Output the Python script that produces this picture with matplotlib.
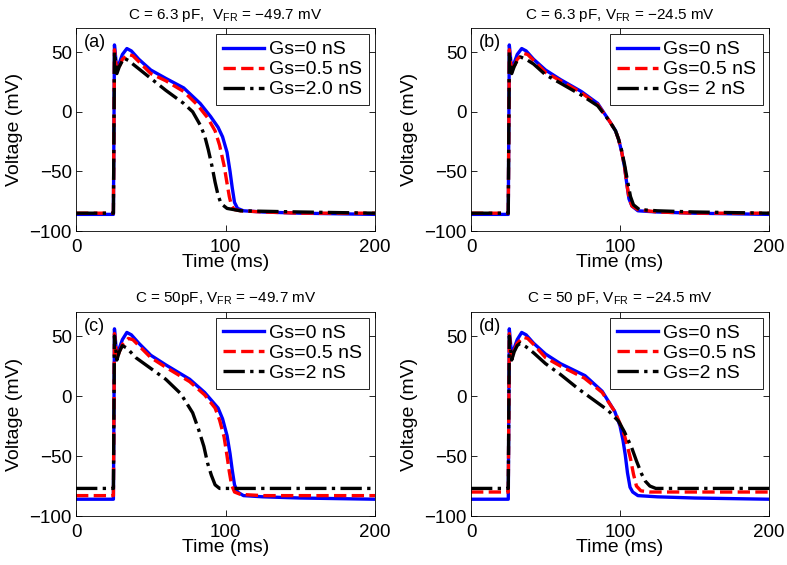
import matplotlib
matplotlib.use('Agg')
import matplotlib.pyplot as plt

plt.rcParams['font.family'] = ['Liberation Sans', 'DejaVu Sans']
plt.rcParams['mathtext.fontset'] = 'custom'
plt.rcParams['mathtext.rm'] = 'Liberation Sans'
plt.rcParams['mathtext.it'] = 'Liberation Sans:italic'

# panel (a): C = 6.3 pF, VFR = -49.7 mV
a_t_gs0 = [0, 25, 25.7, 27.3, 29, 31, 34, 37, 42, 50, 60, 72, 83, 90, 95, 98, 101, 103, 104.5, 106, 108, 112, 125, 150, 200]
a_v_gs0 = [-86, -86, 56, 35, 41, 48, 53, 51, 44, 35, 28, 20, 7, -4, -13, -21, -34, -50, -64, -76, -81, -83, -84, -85, -86]
a_t_gs05 = [0, 25, 25.7, 27.3, 29, 31, 35, 38, 42, 50, 60, 72, 81, 88, 93, 96, 99, 101, 102.5, 104, 106, 110, 125, 150, 200]
a_v_gs05 = [-85, -85, 52, 33, 38, 44, 48, 47, 42, 32, 26, 17, 6, -5, -16, -28, -45, -60, -71, -79, -82, -83, -84, -85, -85]
a_t_gs2 = [0, 25, 25.7, 27.3, 29, 32, 35, 40, 50, 60, 72, 78, 83, 86, 88.5, 91, 93, 95, 97, 101, 110, 150, 200]
a_v_gs2 = [-85, -85, 50, 32, 38, 45, 43, 38, 28, 18, 7, 0, -11, -20, -32, -46, -59, -70, -77, -81, -83, -84, -85]

# panel (b): C = 6.3 pF, VFR = -24.5 mV
b_t_gs0 = [0, 25, 25.7, 27.3, 29, 31, 34, 37, 42, 50, 60, 74, 85, 93, 97, 99, 101, 103, 104.5, 106, 108, 112, 125, 150, 200]
b_v_gs0 = [-86, -86, 56, 35, 41, 48, 53, 51, 44, 35, 27, 17, 7, -8, -16, -23, -33, -46, -60, -73, -79, -83, -84, -85, -86]
b_t_gs05 = [0, 25, 25.7, 27.3, 29, 31, 35, 38, 42, 50, 60, 74, 85, 93, 97, 99, 101, 103, 104.5, 106, 108, 112, 125, 150, 200]
b_v_gs05 = [-85, -85, 52, 33, 38, 44, 49, 48, 43, 33, 26, 16, 6, -8, -16, -23, -33, -46, -60, -72, -79, -82, -84, -85, -85]
b_t_gs2 = [0, 25, 25.7, 27.3, 29, 31, 33, 37, 42, 50, 60, 74, 85, 93, 97, 99, 101, 103, 105, 107, 109, 113, 125, 150, 200]
b_v_gs2 = [-85, -85, 50, 32, 38, 43, 46, 44, 40, 31, 24, 14, 5, -8, -16, -23, -32, -44, -58, -71, -78, -82, -83, -84, -85]

# panel (c): C = 50 pF, VFR = -49.7 mV
c_t_gs0 = [0, 25, 25.7, 27.3, 29, 31, 34, 37, 42, 50, 60, 76, 86, 95, 98, 101, 103, 104.5, 106, 108, 112, 125, 150, 200]
c_v_gs0 = [-86, -86, 56, 33, 40, 47, 53, 51, 44, 34, 26, 14, 3, -10, -19, -33, -48, -62, -74, -80, -83, -84, -85, -86]
c_t_gs05 = [0, 25, 25.7, 27.3, 29, 31, 35, 38, 42, 50, 60, 76, 86, 93, 96, 99, 101, 102.5, 104, 106, 110, 125, 200]
c_v_gs05 = [-83, -83, 52, 31, 37, 43, 48, 47, 42, 32, 24, 12, 1, -10, -20, -34, -50, -63, -74, -80, -82, -83, -83]
c_t_gs2 = [0, 25, 25.7, 27.3, 29, 31, 34, 40, 50, 60, 70, 78, 82, 85.5, 88, 90.5, 93, 96, 110, 200]
c_v_gs2 = [-77, -77, 50, 30, 37, 42, 40, 32, 23, 14, 2, -14, -28, -42, -56, -66, -74, -77, -77, -77]

# panel (d): C = 50 pF, VFR = -24.5 mV
d_t_gs0 = [0, 25, 25.7, 27.3, 29, 31, 34, 37, 42, 50, 60, 76.5, 88, 96.5, 100, 102, 103.5, 105, 106.7, 108.5, 112, 125, 150, 200]
d_v_gs0 = [-86, -86, 56, 33, 40, 47, 53, 51, 44, 35, 27, 17, 4, -13, -25, -37, -49, -64, -76, -80, -83, -84, -85, -86]
d_t_gs05 = [0, 25, 25.7, 27.3, 29, 31, 35, 38, 42, 50, 60, 76, 88, 96.5, 100, 103, 105, 107, 109, 111, 114, 120, 200]
d_v_gs05 = [-80, -80, 52, 31, 38, 44, 49, 48, 43, 32, 25, 15, 3, -13, -23, -33, -42, -52, -65, -75, -79, -80, -80]
d_t_gs2 = [0, 25, 25.7, 27.3, 29, 31, 33, 37, 42, 50, 60, 72, 82, 92, 99, 103, 107.8, 111, 114.5, 117, 120, 124, 200]
d_v_gs2 = [-77, -77, 50, 30, 37, 42, 44, 41, 36, 27, 18, 6, -3, -12, -21, -30, -43, -54, -65, -71, -75, -77, -77]

titles = [r'C = 6.3 pF,  V$_{\mathrm{FR}}$ = $-$49.7 mV',
          r'C = 6.3 pF, V$_{\mathrm{FR}}$ = $-$24.5 mV',
          r'C = 50pF, V$_{\mathrm{FR}}$ = $-$49.7 mV',
          r'C = 50 pF, V$_{\mathrm{FR}}$ = $-$24.5 mV']
panel_tags = ['(a)', '(b)', '(c)', '(d)']
legend_labels = [['Gs=0 nS', 'Gs=0.5 nS', 'Gs=2.0 nS'],
                 ['Gs=0 nS', 'Gs=0.5 nS', 'Gs= 2 nS'],
                 ['Gs=0 nS', 'Gs=0.5 nS', 'Gs=2 nS'],
                 ['Gs=0 nS', 'Gs=0.5 nS', 'Gs=2 nS']]
panels = [
    [(a_t_gs0, a_v_gs0), (a_t_gs05, a_v_gs05), (a_t_gs2, a_v_gs2)],
    [(b_t_gs0, b_v_gs0), (b_t_gs05, b_v_gs05), (b_t_gs2, b_v_gs2)],
    [(c_t_gs0, c_v_gs0), (c_t_gs05, c_v_gs05), (c_t_gs2, c_v_gs2)],
    [(d_t_gs0, d_v_gs0), (d_t_gs05, d_v_gs05), (d_t_gs2, d_v_gs2)],
]

styles = [dict(color='#0000ff', ls='-'),
          dict(color='#ff0000', ls='--'),
          dict(color='black', ls='-.')]

fig = plt.figure(figsize=(7.87, 5.65), dpi=100)
boxes = [[0.0966, 0.591, 0.380, 0.359],
         [0.5985, 0.591, 0.3787, 0.359],
         [0.0966, 0.0867, 0.380, 0.361],
         [0.5985, 0.0867, 0.3787, 0.361]]

for i in range(4):
    ax = fig.add_axes(boxes[i])
    for j in range(3):
        t, v = panels[i][j]
        ax.plot(t, v, lw=2.4, label=legend_labels[i][j], **styles[j])
    ax.set_xlim(0, 200)
    ax.set_ylim(-100, 70)
    ax.set_xticks([0, 100, 200])
    ax.set_yticks([-100, -50, 0, 50])
    ax.tick_params(direction='in', top=True, right=True, length=4, width=0.6,
                   labelsize=13.5)
    ax.tick_params(axis='x', pad=6)
    ax.tick_params(axis='y', pad=3)
    for s in ax.spines.values():
        s.set_linewidth(0.6)
    ax.set_xlabel('Time (ms)', fontsize=14, labelpad=-2)
    ax.set_ylabel('Voltage (mV)', fontsize=14, labelpad=5)
    ax.set_title(titles[i], fontsize=11, pad=7)
    ax.text(0.025, 0.93, panel_tags[i], transform=ax.transAxes, fontsize=13,
            va='center', ha='left')
    leg = ax.legend(loc='upper right', fontsize=14, handlelength=2.1,
                    labelspacing=0.12, borderpad=0.35, handletextpad=0.3,
                    borderaxespad=0.3, fancybox=False, framealpha=1)
    leg.get_frame().set_edgecolor('black')
    leg.get_frame().set_linewidth(0.6)

fig.savefig('out.png', dpi=100)
